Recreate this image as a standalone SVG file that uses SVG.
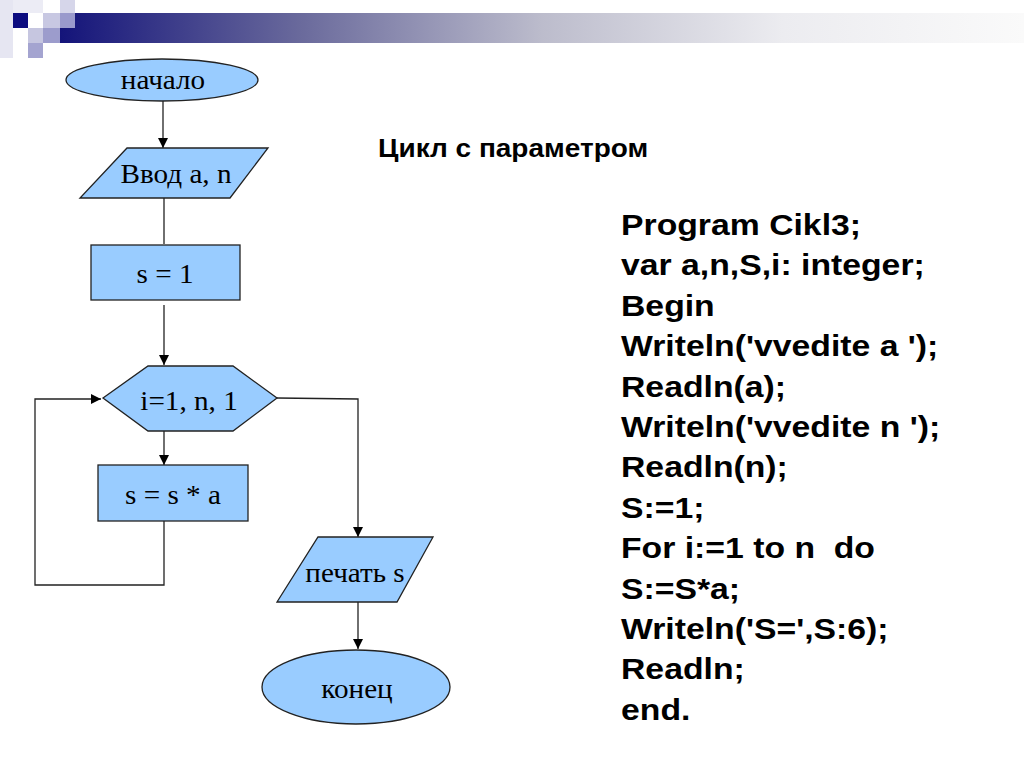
<svg xmlns="http://www.w3.org/2000/svg" width="1024" height="767" viewBox="0 0 1024 767">
<defs>
<linearGradient id="bar" gradientUnits="userSpaceOnUse" x1="60" y1="0" x2="1024" y2="0">
<stop offset="0" stop-color="#14147a"/>
<stop offset="0.25" stop-color="#6a6a9c"/>
<stop offset="0.5" stop-color="#bcbccc"/>
<stop offset="0.75" stop-color="#ececf0"/>
<stop offset="1" stop-color="#fafafa"/>
</linearGradient>
<marker id="arr" viewBox="0 0 10 10" refX="10" refY="5" markerWidth="10" markerHeight="10" markerUnits="userSpaceOnUse" orient="auto">
<path d="M0,0 L10,5 L0,10 z" fill="#000"/>
</marker>
<style>
.shape{fill:#99ccff;stroke:#222;stroke-width:1.3}
.lbl{font-family:"Liberation Serif","Times New Roman",serif;font-size:27px;fill:#000;text-anchor:middle}
.con{fill:none;stroke:#222;stroke-width:1.3}
.code{font-family:"Liberation Sans",Arial,sans-serif;font-weight:bold;font-size:30px;fill:#000}
</style>
</defs>
<rect width="1024" height="767" fill="#fff"/>
<g id="decor">
<rect x="0" y="0" width="13" height="58" fill="#e6e6f2"/>
<rect x="13" y="0" width="30" height="13" fill="#ececf5"/>
<rect x="60" y="13" width="964" height="30" fill="url(#bar)"/>
<rect x="60" y="0" width="15" height="13" fill="#d6d6ea"/>
<rect x="13" y="13" width="15" height="15" fill="#0c0c80"/>
<rect x="43" y="13" width="17" height="15" fill="#c8c8e2"/>
<rect x="60" y="13" width="15" height="15" fill="#9a9acc"/>
<rect x="28" y="28" width="15" height="15" fill="#c6c6e0"/>
<rect x="43" y="28" width="17" height="15" fill="#9c9ccc"/>
<rect x="28" y="43" width="15" height="15" fill="#a4a4d0"/>
</g>
<g id="connectors">
<line class="con" x1="163" y1="100" x2="163" y2="148" marker-end="url(#arr)"/>
<line class="con" x1="164" y1="198" x2="164" y2="244"/>
<line class="con" x1="164" y1="305" x2="164" y2="365" marker-end="url(#arr)"/>
<line class="con" x1="164" y1="431" x2="164" y2="465" marker-end="url(#arr)"/>
<polyline class="con" points="164,521 164,585 35,585 35,399 101,399" marker-end="url(#arr)"/>
<polyline class="con" points="277,398 358,399 358,537" marker-end="url(#arr)"/>
<line class="con" x1="358" y1="602" x2="358" y2="649" marker-end="url(#arr)"/>
</g>
<g id="start">
<ellipse class="shape" cx="162" cy="80" rx="96" ry="21"/>
<text class="lbl" transform="translate(163 89) scale(1.08 1)">начало</text>
</g>
<g id="input">
<polygon class="shape" points="127,148 268,148 230,198 80,198"/>
<text class="lbl" transform="translate(176 183) scale(1.08 1)">Ввод a, n</text>
</g>
<g id="init">
<rect class="shape" x="91" y="245" width="149" height="55"/>
<text class="lbl" transform="translate(165 283) scale(1.08 1)">s = 1</text>
</g>
<g id="loop">
<polygon class="shape" points="103,398 148,366 233,366 277,398 233,431 148,431"/>
<text class="lbl" transform="translate(189 410) scale(1.08 1)">i=1, n, 1</text>
</g>
<g id="body">
<rect class="shape" x="98" y="465" width="150" height="56"/>
<text class="lbl" transform="translate(173 504) scale(1.08 1)">s = s * a</text>
</g>
<g id="print">
<polygon class="shape" points="318,537 433,537 397,602 277,602"/>
<text class="lbl" transform="translate(355 582) scale(1.08 1)">печать s</text>
</g>
<g id="end">
<ellipse class="shape" cx="356" cy="687" rx="94" ry="37"/>
<text class="lbl" transform="translate(357 698) scale(1.08 1)">конец</text>
</g>
<g id="title">
<text transform="translate(378 157) scale(1.12 1)" font-family="'Liberation Sans',Arial,sans-serif" font-weight="bold" font-size="25" fill="#000">Цикл с параметром</text>
</g>
<g id="code" transform="translate(621 0) scale(1.125 1)">
<text class="code" x="0" y="235">Program Cikl3;</text>
<text class="code" x="0" y="275.4">var a,n,S,i: integer;</text>
<text class="code" x="0" y="315.8">Begin</text>
<text class="code" x="0" y="356.2">Writeln('vvedite a ');</text>
<text class="code" x="0" y="396.6">Readln(a);</text>
<text class="code" x="0" y="437">Writeln('vvedite n ');</text>
<text class="code" x="0" y="477.4">Readln(n);</text>
<text class="code" x="0" y="517.8">S:=1;</text>
<text class="code" x="0" y="558.2" xml:space="preserve">For i:=1 to n  do</text>
<text class="code" x="0" y="598.6">S:=S*a;</text>
<text class="code" x="0" y="639">Writeln('S=',S:6);</text>
<text class="code" x="0" y="679.4">Readln;</text>
<text class="code" x="0" y="719.8">end.</text>
</g>
</svg>
